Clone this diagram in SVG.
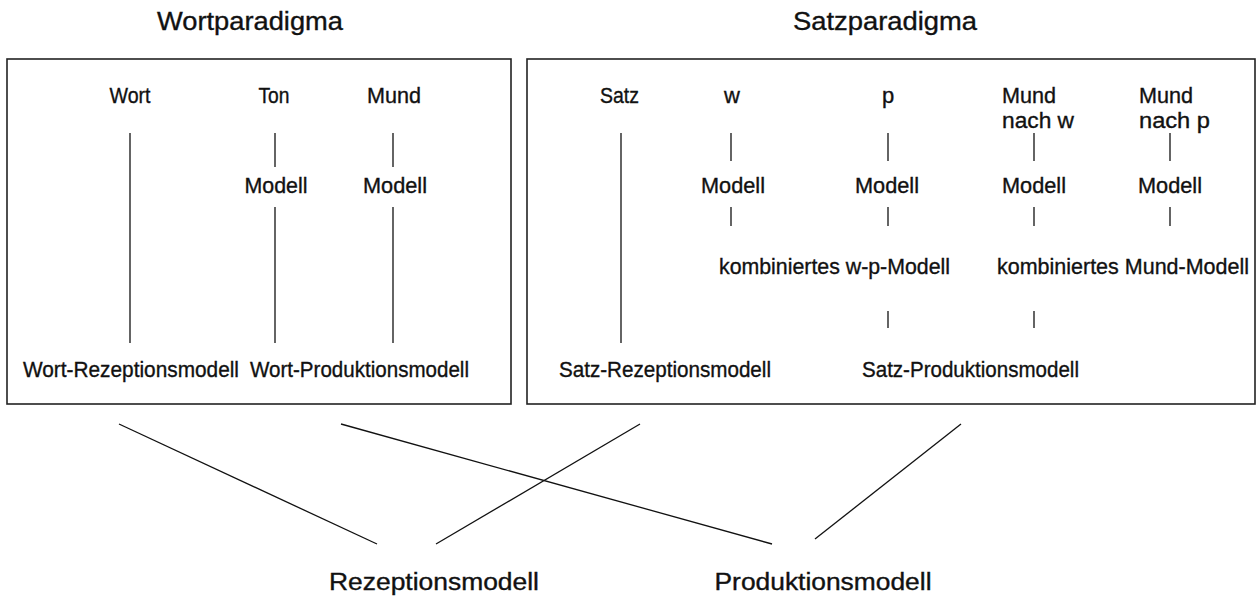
<svg xmlns="http://www.w3.org/2000/svg" width="1258" height="598" viewBox="0 0 1258 598">
<style>
text{font-family:"Liberation Sans",Arial,sans-serif;fill:#111;stroke:#111;stroke-width:0.35;}
.t{font-size:25px;text-anchor:middle;}
.n{font-size:22px;text-anchor:middle;}
.nl{font-size:22px;text-anchor:start;}
.b{font-size:23px;text-anchor:middle;}
.box{fill:none;stroke:#222;stroke-width:1.6;}
.c line{stroke:#111;stroke-width:1.3;}
</style>
<rect width="1258" height="598" fill="#fff"/>
<g id="wortparadigma">
<text class="t" x="250" y="30" textLength="186" lengthAdjust="spacingAndGlyphs">Wortparadigma</text>
<rect class="box" x="7" y="59" width="504" height="345"/>
</g>
<g id="satzparadigma">
<text class="t" x="885" y="30" textLength="184" lengthAdjust="spacingAndGlyphs">Satzparadigma</text>
<rect class="box" x="527" y="59" width="728" height="345"/>
</g>
<g id="wort"><text class="n" x="130" y="103" textLength="41" lengthAdjust="spacingAndGlyphs">Wort</text></g>
<g id="ton"><text class="n" x="274" y="103" textLength="31" lengthAdjust="spacingAndGlyphs">Ton</text></g>
<g id="mund"><text class="n" x="394" y="103" textLength="54" lengthAdjust="spacingAndGlyphs">Mund</text></g>
<g id="ton-modell"><text class="n" x="276" y="193" textLength="63" lengthAdjust="spacingAndGlyphs">Modell</text></g>
<g id="mund-modell"><text class="n" x="395" y="193" textLength="64" lengthAdjust="spacingAndGlyphs">Modell</text></g>
<g id="wort-rezeption"><text class="n" x="131" y="377" textLength="216" lengthAdjust="spacingAndGlyphs">Wort-Rezeptionsmodell</text></g>
<g id="wort-produktion"><text class="n" x="359.5" y="377" textLength="219" lengthAdjust="spacingAndGlyphs">Wort-Produktionsmodell</text></g>
<g id="satz"><text class="n" x="619.5" y="103" textLength="39" lengthAdjust="spacingAndGlyphs">Satz</text></g>
<g id="w"><text class="n" x="732" y="103">w</text></g>
<g id="p"><text class="n" x="888" y="103">p</text></g>
<g id="mund-nach-w"><text class="nl" x="1002" y="103" textLength="54" lengthAdjust="spacingAndGlyphs">Mund</text><text class="nl" x="1002" y="128" textLength="72" lengthAdjust="spacingAndGlyphs">nach w</text></g>
<g id="mund-nach-p"><text class="nl" x="1139" y="103" textLength="54" lengthAdjust="spacingAndGlyphs">Mund</text><text class="nl" x="1139" y="128" textLength="71" lengthAdjust="spacingAndGlyphs">nach p</text></g>
<g id="w-modell"><text class="n" x="733" y="193" textLength="64" lengthAdjust="spacingAndGlyphs">Modell</text></g>
<g id="p-modell"><text class="n" x="887" y="193" textLength="64" lengthAdjust="spacingAndGlyphs">Modell</text></g>
<g id="mundw-modell"><text class="n" x="1034" y="193" textLength="64" lengthAdjust="spacingAndGlyphs">Modell</text></g>
<g id="mundp-modell"><text class="n" x="1170" y="193" textLength="64" lengthAdjust="spacingAndGlyphs">Modell</text></g>
<g id="kombi-wp"><text class="n" x="834.5" y="274" textLength="231" lengthAdjust="spacingAndGlyphs">kombiniertes w-p-Modell</text></g>
<g id="kombi-mund"><text class="n" x="1123" y="274" textLength="252" lengthAdjust="spacingAndGlyphs">kombiniertes Mund-Modell</text></g>
<g id="satz-rezeption"><text class="n" x="665" y="377" textLength="212" lengthAdjust="spacingAndGlyphs">Satz-Rezeptionsmodell</text></g>
<g id="satz-produktion"><text class="n" x="970.5" y="377" textLength="217" lengthAdjust="spacingAndGlyphs">Satz-Produktionsmodell</text></g>
<g id="rezeptionsmodell"><text class="b" x="434" y="590" textLength="210" lengthAdjust="spacingAndGlyphs">Rezeptionsmodell</text></g>
<g id="produktionsmodell"><text class="b" x="823" y="590" textLength="217" lengthAdjust="spacingAndGlyphs">Produktionsmodell</text></g>
<g id="connectors" class="c">
<line x1="130" y1="133" x2="130" y2="343"/>
<line x1="275" y1="133" x2="275" y2="167"/>
<line x1="275" y1="207" x2="275" y2="343"/>
<line x1="393" y1="133" x2="393" y2="167"/>
<line x1="393" y1="207" x2="393" y2="343"/>
<line x1="621" y1="133" x2="621" y2="343"/>
<line x1="731" y1="133" x2="731" y2="161"/>
<line x1="731" y1="207" x2="731" y2="226"/>
<line x1="888" y1="133" x2="888" y2="161"/>
<line x1="888" y1="207" x2="888" y2="226"/>
<line x1="888" y1="311" x2="888" y2="328"/>
<line x1="1034" y1="133" x2="1034" y2="161"/>
<line x1="1034" y1="207" x2="1034" y2="226"/>
<line x1="1034" y1="311" x2="1034" y2="328"/>
<line x1="1170" y1="133" x2="1170" y2="161"/>
<line x1="1170" y1="207" x2="1170" y2="226"/>
<line x1="119" y1="424" x2="377" y2="544"/>
<line x1="341" y1="424" x2="772" y2="544"/>
<line x1="640" y1="424" x2="436" y2="544"/>
<line x1="961" y1="424" x2="815" y2="539"/>
</g>
</svg>
